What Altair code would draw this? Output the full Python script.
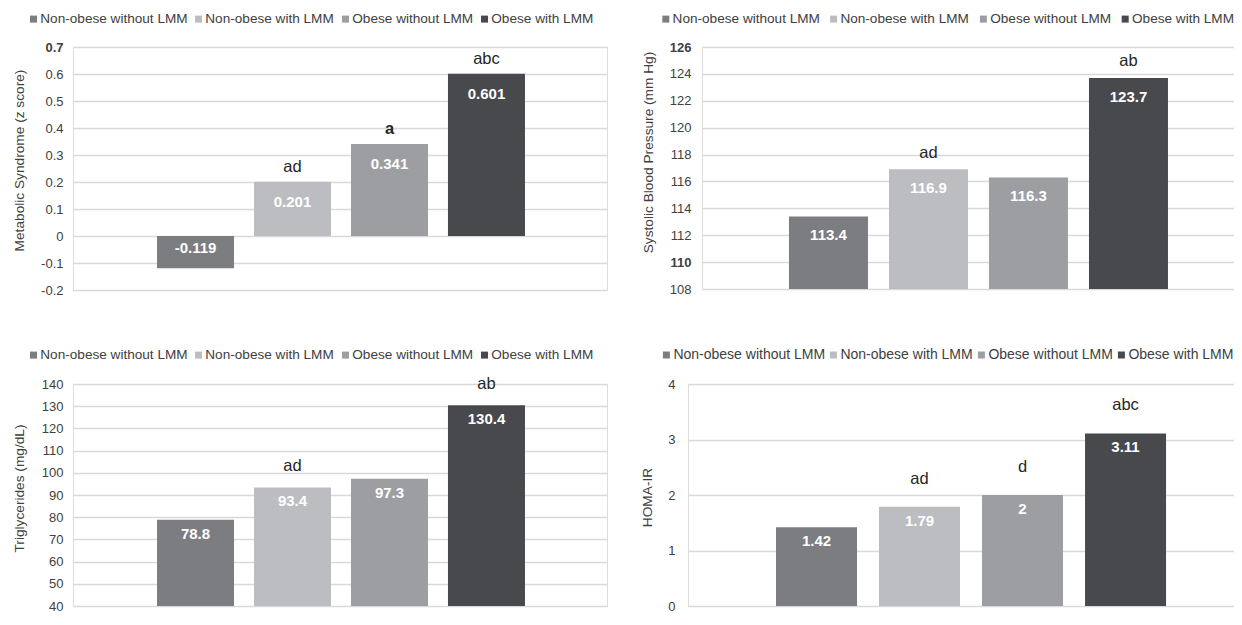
import altair as alt
import pandas as pd

groups = ["Non-obese without LMM", "Non-obese with LMM", "Obese without LMM", "Obese with LMM"]
colors = ["#7c7d81", "#bcbdc0", "#9d9ea2", "#48494c"]

ms_values = [-0.119, 0.201, 0.341, 0.601]
ms_letters = ["", "ad", "a", "abc"]
ms_ticks = [-0.2, -0.1, 0.0, 0.1, 0.2, 0.3, 0.4, 0.5, 0.6, 0.7]

sbp_values = [113.4, 116.9, 116.3, 123.7]
sbp_letters = ["", "ad", "", "ab"]
sbp_ticks = [108, 110, 112, 114, 116, 118, 120, 122, 124, 126]

tg_values = [78.8, 93.4, 97.3, 130.4]
tg_letters = ["", "ad", "", "ab"]
tg_ticks = [40, 50, 60, 70, 80, 90, 100, 110, 120, 130, 140]

homa_values = [1.42, 1.79, 2, 3.11]
homa_letters = ["", "ad", "d", "abc"]
homa_ticks = [0, 1, 2, 3, 4]

FONT = "Liberation Sans"
TXT = "#404040"


def panel(values, letters, ticks, dom, base, title, W, H, pi, po, al,
          titleX, titleY, labelPad, legX, legY, legFont, colPad, labOff,
          valDy, letDy, labelExpr, boldExpr):
    df = pd.DataFrame({
        "group": groups,
        "value": values,
        "label": [f"{v:g}" for v in values],
        "letter": letters,
    })
    x = alt.X("group:N", sort=groups, axis=None,
              scale=alt.Scale(paddingInner=pi, paddingOuter=po, align=al))
    axis = alt.Axis(
        values=ticks, title=title, grid=True, ticks=False, domain=False,
        labelPadding=labelPad, labelFontSize=13, labelFont=FONT, labelColor=TXT,
        labelOverlap=False, labelExpr=labelExpr,
        labelFontWeight={"condition": {"test": boldExpr, "value": "bold"}, "value": "normal"},
        titleFont=FONT, titleFontSize=13.7, titleFontWeight="normal", titleColor=TXT,
        titleX=titleX, titleY=titleY,
        gridColor="#d9d9d9", gridWidth=1.5,
    )
    y = alt.Y("value:Q", scale=alt.Scale(domain=dom, nice=False, zero=False), axis=axis)
    color = alt.Color(
        "group:N",
        scale=alt.Scale(domain=groups, range=colors),
        legend=alt.Legend(
            title=None, orient="none", legendX=legX, legendY=legY,
            direction="horizontal", symbolType="square", symbolSize=49,
            symbolStrokeWidth=0, labelFontSize=legFont, labelFont=FONT,
            labelColor=TXT, columnPadding=colPad, labelOffset=labOff, padding=0,
            labelLimit=400,
        ),
    )
    base_chart = alt.Chart(df)
    bars = base_chart.mark_bar().encode(x=x, y=y, y2=alt.Y2(datum=base), color=color)
    vpos = base_chart.transform_filter("datum.value >= 0").mark_text(
        dy=valDy, font=FONT, fontSize=15, fontWeight="bold", color="white", baseline="middle"
    ).encode(x=x, y=y, text="label:N")
    vneg = base_chart.transform_filter("datum.value < 0").mark_text(
        dy=-valDy, font=FONT, fontSize=15, fontWeight="bold", color="white", baseline="middle"
    ).encode(x=x, y=y, text="label:N")
    lets = base_chart.transform_filter("datum.letter != ''").mark_text(
        dy=-letDy, font=FONT, fontSize=16.5, color="#262626", baseline="middle",
        fontWeight=alt.ExprRef("datum.letter == 'a' ? 'bold' : 'normal'"),
    ).encode(x=x, y=y, text="letter:N")
    return alt.layer(bars, vpos, vneg, lets).properties(width=W, height=H)


ms_expr = "datum.value == 0 ? '0' : (datum.value < 0 ? '-' : '') + format(abs(datum.value), '.1f')"
int_expr = "format(datum.value, 'd')"

tl = panel(ms_values, ms_letters, ms_ticks, [-0.2, 0.7], 0,
           "Metabolic Syndrome (z score)", 534, 243, 0.206, 0.856, 0.506,
           -47, 113, 10, -46.3, -35, 13.6, 4, 0, 20, 15, ms_expr, "datum.value == 0.7")
tr = panel(sbp_values, sbp_letters, sbp_ticks, [108, 126], 108,
           "Systolic Blood Pressure (mm Hg)", 538, 242, 0.21, 0.795, 0.547,
           -46.3, 105, 11, -43, -35, 13.6, 6.8, 0, 19, 16.5, int_expr,
           "datum.value == 126 || datum.value == 110")
bl = panel(tg_values, tg_letters, tg_ticks, [40, 140], 40,
           "Triglycerides (mg/dL)", 534, 222, 0.206, 0.856, 0.506,
           -47, 104, 10, -46.3, -36, 13.6, 4, 0, 14, 21, int_expr, "false")
br = panel(homa_values, homa_letters, homa_ticks, [0, 4], 0,
           "HOMA-IR", 553, 222, 0.2136, 0.791, 0.54,
           -33.3, 113, 13, -28.6, -36, 14.0, 1, 0, 14, 28, int_expr, "false")

row1 = alt.hconcat(tl, tr, spacing=33).resolve_scale(color="independent").resolve_legend(color="independent")
row2 = alt.hconcat(bl, br, spacing=32).resolve_scale(color="independent").resolve_legend(color="independent")

chart = (
    alt.vconcat(row1, row2, spacing=49)
    .resolve_scale(color="independent")
    .resolve_legend(color="independent")
    .properties(
        autosize=alt.AutoSizeParams(type="none"),
        padding={"left": 65, "top": 39, "right": 1161, "bottom": 566},
        background="white",
    )
    .configure_view(stroke=None)
    .configure(font=FONT)
)

chart.save("out.html", embed_options={"renderer": "svg", "actions": False})
